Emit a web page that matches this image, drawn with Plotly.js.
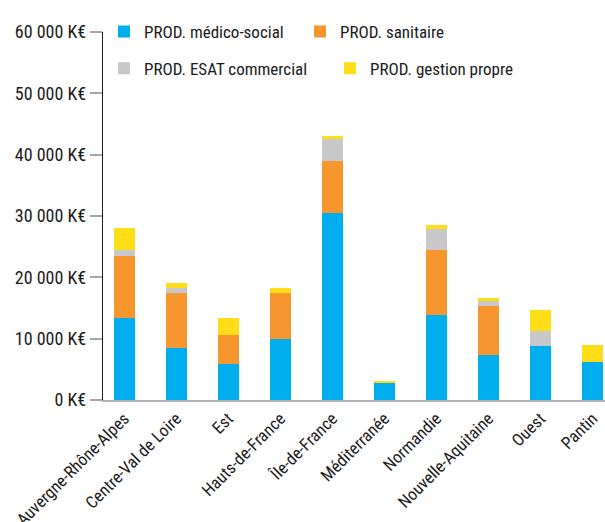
<!DOCTYPE html>
<html><head><meta charset="utf-8">
<script src="https://cdn.plot.ly/plotly-3.0.1.min.js"></script>
<style>html,body{margin:0;padding:0;background:#fff}#chart{width:605px;height:522px}</style>
</head><body><div id="chart"></div>
<script>
var regions = ["Auvergne-Rhône-Alpes","Centre-Val de Loire","Est","Hauts-de-France","Île-de-France","Méditerranée","Normandie","Nouvelle-Aquitaine","Ouest","Pantin"];
var medicoSocial = [13400, 8550, 5900, 10000, 30450, 2700, 13900, 7400, 8800, 6200];
var sanitaire    = [10100, 8850, 4700, 7400, 8450, 0, 10500, 8000, 0, 0];
var esatCommercial = [900, 800, 0, 0, 3600, 0, 3400, 800, 2400, 0];
var gestionPropre  = [3600, 800, 2850, 800, 500, 400, 800, 500, 3500, 2800];
var seriesNames = ["PROD. médico-social","PROD. sanitaire","PROD. ESAT commercial","PROD. gestion propre"];
var yTickVals = [0, 10000, 20000, 30000, 40000, 50000, 60000];
var yTickText = ["0 K€","10 000 K€","20 000 K€","30 000 K€","40 000 K€","50 000 K€","60 000 K€"];

var FONT = "Liberation Sans Narrow, 'Roboto Condensed', 'DejaVu Sans Condensed', Arial Narrow, sans-serif";
var colors = ["#00AEEF","#F7952F","#C8C8CA","#FFDD17"];
var data = [medicoSocial, sanitaire, esatCommercial, gestionPropre];
var legendOf = ["legend","legend","legend2","legend2"];
var traces = data.map(function(vals, i){
  return {type:"bar", x:regions, y:vals, name:seriesNames[i], legend:legendOf[i],
    marker:{color:colors[i], line:{width:0}}, hoverinfo:"x+y+name"};
});
var layout = {
  width:605, height:522, barmode:"stack", bargap:0.596,
  paper_bgcolor:"#fff", plot_bgcolor:"#fff",
  margin:{l:103, r:0, t:32, b:122, autoexpand:false},
  font:{family:FONT, size:17, color:"#1a1a1a"},
  xaxis:{range:[-0.41, 9.24], showline:true, linecolor:"#b3b3b3", linewidth:2,
    ticks:"", tickangle:-45, tickfont:{size:17, family:FONT, color:"#1a1a1a"}, showgrid:false, zeroline:false, fixedrange:true},
  yaxis:{range:[0,60000], tickvals:yTickVals, ticktext:yTickText, showgrid:false, zeroline:false,
    showline:true, linecolor:"#1a1a1a", linewidth:1.2, ticks:"outside", ticklen:12, tickwidth:2, tickcolor:"#a6a6a6",
    tickfont:{size:18, family:FONT, color:"#1a1a1a"}, fixedrange:true},
  showlegend:true,
  legend:{orientation:"h", x:0.002, xanchor:"left", y:1.049, yanchor:"top", entrywidth:151, traceorder:"normal",
    font:{size:17, family:FONT, color:"#1a1a1a"}, bgcolor:"rgba(0,0,0,0)"},
  legend2:{orientation:"h", x:0.002, xanchor:"left", y:0.949, yanchor:"top", entrywidth:181, traceorder:"normal",
    font:{size:17, family:FONT, color:"#1a1a1a"}, bgcolor:"rgba(0,0,0,0)"}
};
Plotly.newPlot("chart", traces, layout, {displayModeBar:false, staticPlot:true});
</script></body></html>
